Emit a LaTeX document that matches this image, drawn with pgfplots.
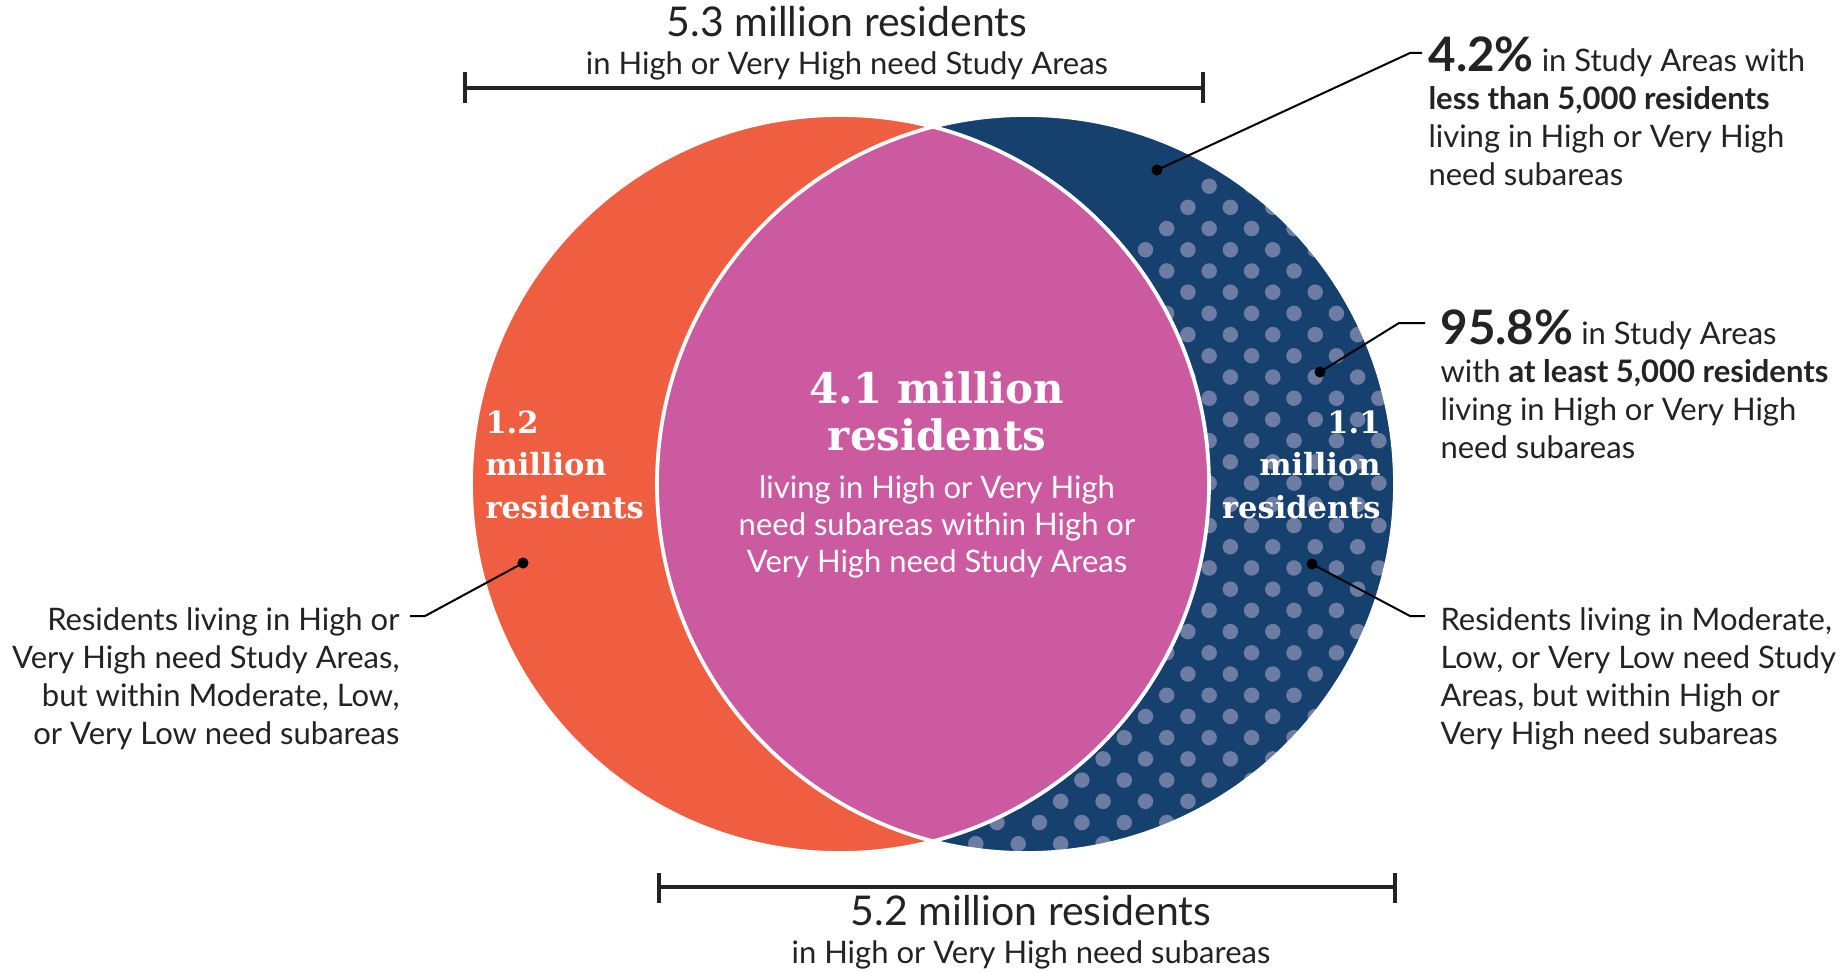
\documentclass[border=0pt]{standalone}
\usepackage{fontspec}
\setmainfont{Lato}
\newfontfamily\slab{DejaVu Serif}
\usepackage{pgfplots}
\pgfplotsset{compat=1.18}
\usetikzlibrary{patterns.meta}

\definecolor{vorange}{HTML}{F05E42}
\definecolor{vpink}{HTML}{CC5AA0}
\definecolor{vnavy}{HTML}{16406E}
\definecolor{vdot}{HTML}{6D7CA3}
\definecolor{vtext}{HTML}{232323}

\newcommand\body{\fontsize{12.4}{15.2}\selectfont}

\begin{document}
\begin{tikzpicture}
\begin{axis}[
    width=736.8pt, height=388.4pt, scale only axis,
    xmin=0, xmax=1842, ymin=0, ymax=971,
    hide axis, clip=false,
  ]
  \path (axis cs:0,0) rectangle (axis cs:1842,971);

  % two circles: Study Areas (left) and subareas (right)
  \fill[vorange] (axis cs:840,487) circle[radius=369];
  \fill[vnavy] (axis cs:1026,487) circle[radius=369];
  \begin{scope}
    \clip (axis cs:1026,487) circle[radius=369];
    \clip (axis cs:394,0) -- (axis cs:1842,0) -- (axis cs:1842,971) -- (axis cs:1365,971) -- cycle;
    \fill[pattern={Dots[radius=3.1pt, distance=12pt, angle=45]}, pattern color=vdot]
      (axis cs:600,80) rectangle (axis cs:1450,900);
  \end{scope}
  \begin{scope}
    \clip (axis cs:840,487) circle[radius=369];
    \fill[vpink] (axis cs:1026,487) circle[radius=369];
  \end{scope}
  \draw[white, line width=1.5pt] (axis cs:840,487) circle[radius=369]
    (axis cs:1026,487) circle[radius=369];

  % brackets
  \addplot[vtext, line width=1.3pt, mark=none] coordinates {(465,883) (1203,883)};
  \addplot[vtext, line width=1.3pt, mark=none] coordinates {(465,868) (465,899)};
  \addplot[vtext, line width=1.3pt, mark=none] coordinates {(1203,868) (1203,899)};
  \addplot[vtext, line width=1.3pt, mark=none] coordinates {(659,84) (1395,84)};
  \addplot[vtext, line width=1.3pt, mark=none] coordinates {(659,68) (659,98)};
  \addplot[vtext, line width=1.3pt, mark=none] coordinates {(1395,68) (1395,98)};

  % leader lines
  \addplot[black, line width=0.8pt, mark=none] coordinates {(1157,801) (1410,918) (1422,918)};
  \addplot[black, line width=0.8pt, mark=none] coordinates {(1320,599) (1399,648) (1425,648)};
  \addplot[black, line width=0.8pt, mark=none] coordinates {(1312,407) (1410,355) (1425,355)};
  \addplot[black, line width=0.8pt, mark=none] coordinates {(523,408) (425,355) (410,355)};
  \addplot[black, only marks, mark=*, mark size=2pt] coordinates {(1157,801) (1320,599) (1312,407) (523,408)};

  % titles of the brackets
  \node[anchor=base, inner sep=0, text=vtext] at (axis cs:847,934)
    {\fontsize{16.4}{20}\selectfont 5.3 million residents};
  \node[anchor=base, inner sep=0, text=vtext] at (axis cs:847,896)
    {\body in High or Very High need Study Areas};
  \node[anchor=base, inner sep=0, text=vtext] at (axis cs:1031,46)
    {\fontsize{16.4}{20}\selectfont 5.2 million residents};
  \node[anchor=base, inner sep=0, text=vtext] at (axis cs:1031,8)
    {\body in High or Very High need subareas};

  % labels inside the circles
  \node[anchor=base, inner sep=0, text=white] at (axis cs:937,568)
    {\slab\bfseries\fontsize{16.8}{18.8}\selectfont\begin{tabular}[t]{@{}c@{}}4.1 million\\ residents\end{tabular}};
  \node[anchor=base, inner sep=0, text=white] at (axis cs:937,473)
    {\body\fontsize{12.4}{14.8}\selectfont\begin{tabular}[t]{@{}c@{}}living in High or Very High\\ need subareas within High or\\ Very High need Study Areas\end{tabular}};
  \node[anchor=base west, inner sep=0, text=white] at (axis cs:485,538)
    {\slab\bfseries\fontsize{12.2}{17}\selectfont\begin{tabular}[t]{@{}l@{}}1.2\\ million\\ residents\end{tabular}};
  \node[anchor=base east, inner sep=0, text=white] at (axis cs:1381,538)
    {\slab\bfseries\fontsize{12.2}{17}\selectfont\begin{tabular}[t]{@{}r@{}}1.1\\ million\\ residents\end{tabular}};

  % annotations
  \node[anchor=base west, inner sep=0, text=vtext] at (axis cs:1428,899)
    {\body\begin{tabular}[t]{@{}l@{}}{\fontsize{19}{15}\selectfont\bfseries 4.2\%} in Study Areas with\\ \textbf{less than 5,000 residents}\\ living in High or Very High\\ need subareas\end{tabular}};
  \node[anchor=base west, inner sep=0, text=vtext] at (axis cs:1440,627)
    {\body\begin{tabular}[t]{@{}l@{}}{\fontsize{19}{15}\selectfont\bfseries 95.8\%} in Study Areas\\ with \textbf{at least 5,000 residents}\\ living in High or Very High\\ need subareas\end{tabular}};
  \node[anchor=base west, inner sep=0, text=vtext] at (axis cs:1440,341)
    {\body\begin{tabular}[t]{@{}l@{}}Residents living in Moderate,\\ Low, or Very Low need Study\\ Areas, but within High or\\ Very High need subareas\end{tabular}};
  \node[anchor=base east, inner sep=0, text=vtext] at (axis cs:400,341)
    {\body\begin{tabular}[t]{@{}r@{}}Residents living in High or\\ Very High need Study Areas,\\ but within Moderate, Low,\\ or Very Low need subareas\end{tabular}};
\end{axis}
\end{tikzpicture}
\end{document}
